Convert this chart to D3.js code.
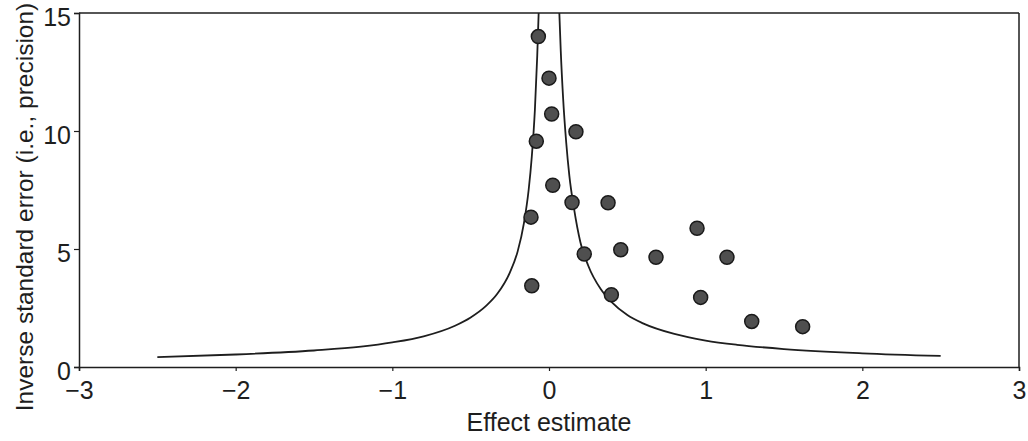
<!DOCTYPE html>
<html>
<head>
<meta charset="utf-8">
<script src="https://cdn.jsdelivr.net/npm/d3@7/dist/d3.min.js"></script>
<style>
  html, body { margin: 0; padding: 0; background: #fff; }
  svg { display: block; }
  text { font-family: "Liberation Sans", Arial, sans-serif; fill: #1e1e1e; }
</style>
</head>
<body>
<svg id="chart" width="1028" height="441"></svg>
<script>
// Study points: effect estimate and inverse standard error (precision)
const effectEstimate = [-0.068, 0.0, 0.017, 0.172, -0.081, 0.024, 0.147, 0.377, -0.115, 0.945,
                        0.225, 0.458, 0.683, 1.136, -0.11, 0.398, 0.968, 1.294, 1.619];
const precision      = [14.0, 12.24, 10.72, 9.97, 9.57, 7.70, 6.97, 6.96, 6.35, 5.88,
                        4.79, 4.97, 4.65, 4.65, 3.44, 3.06, 2.95, 1.93, 1.71];

// Funnel boundary lines
const funnelLeftX  = [-2.5, -2.0, -1.5, -1.2, -1.0, -0.8, -0.6, -0.5, -0.4, -0.33, -0.25, -0.2, -0.16, -0.13, -0.11, -0.09, -0.075, -0.066];
const funnelLeftY  = [0.42, 0.53, 0.70, 0.86, 1.04, 1.30, 1.75, 2.10, 2.60, 3.10, 4.00, 4.90, 6.10, 7.50, 8.90, 10.9, 13.2, 15.0];
const funnelRightX = [0.066, 0.075, 0.09, 0.11, 0.13, 0.16, 0.2, 0.25, 0.33, 0.4, 0.5, 0.6, 0.8, 1.0, 1.2, 1.5, 2.0, 2.5];
const funnelRightY = [15.0, 13.4, 11.4, 9.5, 8.1, 6.7, 5.3, 4.3, 3.3, 2.75, 2.2, 1.85, 1.40, 1.12, 0.94, 0.76, 0.58, 0.47];

const xTicks = [-3, -2, -1, 0, 1, 2, 3];
const yTicks = [0, 5, 10, 15];
const xLabel = "Effect estimate";
const yLabel = "Inverse standard error (i.e., precision)";

const svg = d3.select("#chart");
const mLeft = 79, mRight = 1019, mTop = 13, mBottom = 367;

const x = d3.scaleLinear().domain([-3, 3]).range([mLeft, mRight]);
const y = d3.scaleLinear().domain([0, 15]).range([mBottom, mTop]);

const ink = "#1e1e1e";

// Clip
svg.append("defs").append("clipPath").attr("id", "plotclip")
  .append("rect").attr("x", mLeft).attr("y", mTop).attr("width", mRight - mLeft).attr("height", mBottom - mTop);

// Frame (top and right)
svg.append("line").attr("x1", mLeft).attr("x2", mRight).attr("y1", mTop).attr("y2", mTop)
  .attr("stroke", ink).attr("stroke-width", 1.5);
svg.append("line").attr("x1", mRight).attr("x2", mRight).attr("y1", mTop).attr("y2", mBottom)
  .attr("stroke", ink).attr("stroke-width", 1.5);

// Axes
const fontSize = 25;
const xAxis = svg.append("g").attr("transform", `translate(0,${mBottom})`)
  .call(d3.axisBottom(x).tickValues(xTicks).tickSize(4).tickPadding(10)
        .tickFormat(d => d < 0 ? "\u2212" + Math.abs(d) : String(d)));
const yAxis = svg.append("g").attr("transform", `translate(${mLeft},0)`)
  .call(d3.axisLeft(y).tickValues(yTicks).tickSize(5).tickPadding(3).tickFormat(d3.format("d")));

[xAxis, yAxis].forEach(g => {
  g.select(".domain").attr("stroke", ink).attr("stroke-width", 1.5);
  g.selectAll(".tick line").attr("stroke", ink).attr("stroke-width", 1.2);
  g.selectAll(".tick text").attr("fill", ink)
    .style("font-family", '"Liberation Sans", Arial, sans-serif').style("font-size", fontSize + "px");
});
yAxis.selectAll(".tick text").attr("dy", "0.5em");

// Funnel lines
const line = d3.line().x(d => x(d[0])).y(d => y(d[1])).curve(d3.curveMonotoneX);
const leftPts = funnelLeftX.map((v, i) => [v, funnelLeftY[i]]);
const rightPts = funnelRightX.map((v, i) => [v, funnelRightY[i]]);
const lines = svg.append("g").attr("clip-path", "url(#plotclip)");
[leftPts, rightPts].forEach(pts => {
  lines.append("path").attr("d", line(pts))
    .attr("fill", "none").attr("stroke", ink).attr("stroke-width", 1.8);
});

// Points
svg.append("g").selectAll("circle")
  .data(effectEstimate.map((v, i) => [v, precision[i]]))
  .join("circle")
  .attr("cx", d => x(d[0])).attr("cy", d => y(d[1])).attr("r", 7)
  .attr("fill", "#4f4f4f").attr("stroke", "#1a1a1a").attr("stroke-width", 1.5);

// Axis labels
svg.append("text").attr("x", (mLeft + mRight) / 2).attr("y", 431)
  .attr("text-anchor", "middle").style("font-size", "25px").text(xLabel);
svg.append("text").attr("transform", `translate(33,207) rotate(-90)`)
  .attr("text-anchor", "middle").style("font-size", "24.5px").text(yLabel);
</script>
</body>
</html>
